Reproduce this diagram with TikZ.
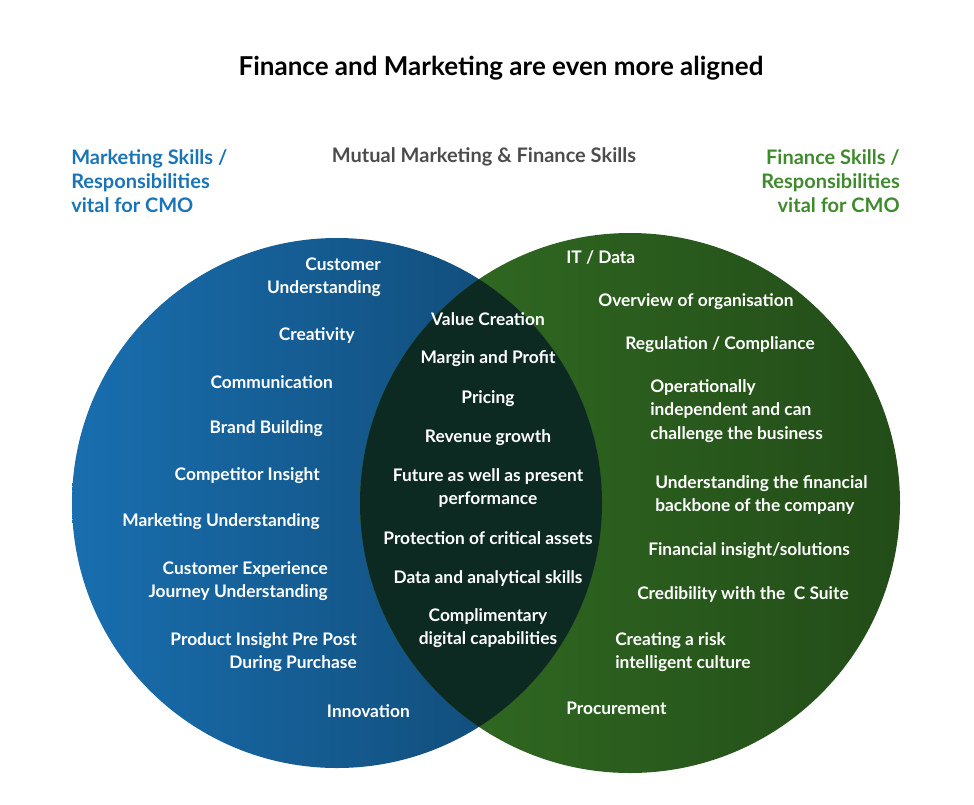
\documentclass[tikz,border=0pt]{standalone}
\usepackage{fontspec}
\setmainfont{Lato}
\definecolor{mktblue}{HTML}{1A74B8}
\definecolor{finggreen}{HTML}{3F8A2C}
\definecolor{lensdark}{HTML}{0D2A22}
\begin{document}
\begin{tikzpicture}[x=0.75pt,y=-0.75pt]

% sizes of the two sets
\def\rad{265}
% text styles
\tikzstyle{item} = [text=white, font=\fontsize{13}{17.5}\selectfont\bfseries, inner sep=0pt];
\tikzstyle{lft} = [item, anchor=east, align=right];
\tikzstyle{rgt} = [item, anchor=west, align=left];
\tikzstyle{mid} = [item, align=center];
\tikzstyle{head} = [font=\fontsize{15}{18}\selectfont\bfseries, inner sep=0pt];

\useasboundingbox (0,0) rectangle (974,804);

% the two sets and their overlap
\shade[left color=mktblue!95!black, right color=mktblue!60!black] (337,503) circle (\rad);
\shade[left color=finggreen!80!black, right color=finggreen!55!black] (630,503) circle (\rad+5);
\begin{scope}
\clip (337,503) circle (\rad);
\fill[lensdark] (630,503) circle (\rad+5);
\end{scope}

\node[font=\fontsize{19.5}{22}\selectfont\bfseries] (title) at (501,68) {Finance and Marketing are even more aligned};

\node[head, text=mktblue, anchor=west, align=left] (hmkt) at (71,181) {Marketing Skills /\\Responsibilities\\vital for CMO};
\node[head, text=black!70] (hmut) at (484,157) {Mutual Marketing \& Finance Skills};
\node[head, text=finggreen, anchor=east, align=right] (hfin) at (900,181) {Finance Skills /\\Responsibilities\\vital for CMO};

% marketing side
\node[lft] (m1) at (381,277) {Customer\\Understanding};
\node[lft] (m2) at (355,335) {Creativity};
\node[lft] (m3) at (333,382) {Communication};
\node[lft] (m4) at (323,429) {Brand Building};
\node[lft] (m5) at (320,476) {Competitor Insight};
\node[lft] (m6) at (320,522) {Marketing Understanding};
\node[lft] (m7) at (328,581) {Customer Experience\\Journey Understanding};
\node[lft] (m8) at (357,652) {Product Insight Pre Post\\During Purchase};
\node[lft] (m9) at (410,711) {Innovation};

% mutual skills
\node[mid] (c1) at (488,319) {Value Creation};
\node[mid] (c2) at (488,359) {Margin and Profit};
\node[mid] (c3) at (488,399) {Pricing};
\node[mid] (c4) at (488,438) {Revenue growth};
\node[mid] (c5) at (488,488) {Future as well as present\\performance};
\node[mid] (c6) at (488,538) {Protection of critical assets};
\node[mid] (c7) at (488,578) {Data and analytical skills};
\node[mid] (c8) at (488,628) {Complimentary\\digital capabilities};

% finance side
\node[rgt] (f1) at (566,257) {IT / Data};
\node[rgt] (f2) at (598,302) {Overview of organisation};
\node[rgt] (f3) at (625,345) {Regulation / Compliance};
\node[rgt] (f4) at (650,411) {Operationally\\independent and can\\challenge the business};
\node[rgt] (f5) at (655,495) {Understanding the financial\\backbone of the company};
\node[rgt] (f6) at (648,551) {Financial insight/solutions};
\node[rgt] (f7) at (637,595) {Credibility with the \ C Suite};
\node[rgt] (f8) at (615,652) {Creating a risk\\intelligent culture};
\node[rgt] (f9) at (566,708) {Procurement};

\end{tikzpicture}
\end{document}
